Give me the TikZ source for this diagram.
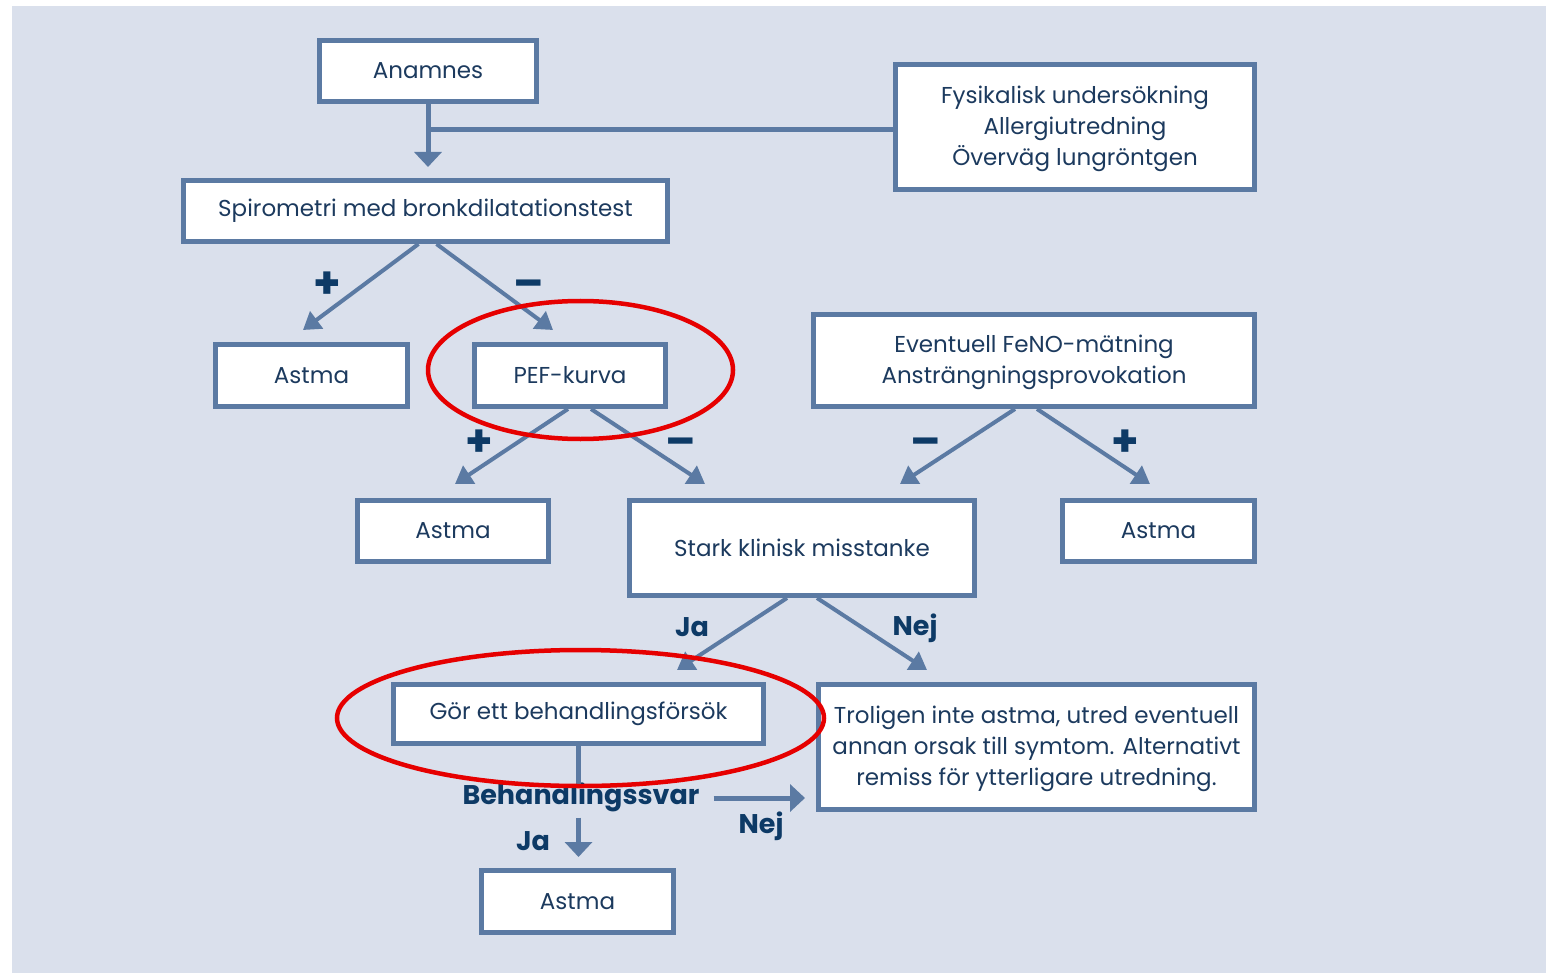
\documentclass[tikz,border=0pt]{standalone}
\usepackage{fontspec}
\setmainfont{Poppins}
\usetikzlibrary{arrows.meta}
\definecolor{bg}{HTML}{DAE0EC}
\definecolor{frame}{HTML}{5B7AA3}
\definecolor{ink}{HTML}{1C3A5E}
\definecolor{lab}{HTML}{0D3A66}
\definecolor{mark}{HTML}{E60000}
\begin{document}
\begin{tikzpicture}[x=1pt,y=-1pt,
  box/.style={draw=frame, line width=5pt, fill=white, text=ink,
    font=\fontsize{23pt}{31pt}\selectfont, align=center, inner sep=0pt},
  conn/.style={draw=frame, line width=4pt, -{Triangle[width=21pt,length=17pt]}},
  vconn/.style={draw=frame, line width=5pt, -{Triangle[width=27pt,length=15pt]}},
  stem/.style={draw=frame, line width=5pt},
  lbl/.style={text=lab, font=\fontsize{27pt}{30pt}\selectfont\bfseries, inner sep=0pt},
  sign/.style={text=lab, font=\fontsize{44pt}{44pt}\selectfont\bfseries, inner sep=0pt},
  ring/.style={draw=mark, line width=4.5pt}]
\useasboundingbox (0,0) rectangle (1546,973);
\fill[white] (0,0) rectangle (1546,973);
\fill[bg] (12,6) rectangle (1546,973);

% boxes
\node[box, minimum width=217pt, minimum height=61pt] (anam) at (428,71) {Anamnes};
\node[box, minimum width=359pt, minimum height=125pt] (fys) at (1075,127)
  {\strut Fysikalisk undersökning\\Allergiutredning\\Överväg lungröntgen};
\node[box, minimum width=484pt, minimum height=61pt] (spiro) at (425.5,211)
  {Spirometri med bronkdilatationstest};
\node[box, minimum width=192pt, minimum height=62pt] (astA) at (311.5,375.5) {Astma};
\node[box, minimum width=191pt, minimum height=62pt] (pef) at (570,375.5) {PEF-kurva};
\node[box, minimum width=441pt, minimum height=92pt] (feno) at (1034,360.5)
  {\strut Eventuell FeNO-mätning\\Ansträngningsprovokation};
\node[box, minimum width=191pt, minimum height=61pt] (astB) at (453,531) {Astma};
\node[box, minimum width=345pt, minimum height=95pt] (stark) at (802,548) {Stark klinisk misstanke};
\node[box, minimum width=192pt, minimum height=61pt] (astC) at (1158.5,531) {Astma};
\node[box, minimum width=370pt, minimum height=59pt] (gor) at (578.5,714) {Gör ett behandlingsförsök};
\node[box, minimum width=436pt, minimum height=125pt] (trol) at (1036.5,747)
  {\strut Troligen inte astma, utred eventuell\\annan orsak till symtom. Alternativt\\remiss för ytterligare utredning.};
\node[box, minimum width=192pt, minimum height=62pt] (astD) at (577.5,901.5) {Astma};

% anamnes to spirometri, with side branch
\draw[vconn] (anam.south) -- ([yshift=11pt]spiro.north -| anam.south);
\draw[stem] ([yshift=-3pt]fys.west) -- ([yshift=-3pt]fys.west -| anam.south);

% spirometri branches
\draw[conn] ([xshift=-7pt]spiro.south) -- ([xshift=-8.5pt,yshift=12pt]astA.north);
\draw[conn] ([xshift=11pt]spiro.south) -- ([xshift=-17pt,yshift=12pt]pef.north);
\node[sign] (s1) at (327,285) {+};
\node[sign] (s2) at (529,289) {–};

% pef branches
\draw[conn] ([xshift=-2pt]pef.south) -- ([xshift=2pt,yshift=14pt]astB.north);
\draw[conn] ([xshift=21pt]pef.south) -- ([xshift=-97pt,yshift=14pt]stark.north);
\node[sign] (s3) at (479,443) {+};
\node[sign] (s4) at (681,447) {–};

% feno branches
\draw[conn] ([xshift=-19pt]feno.south) -- ([xshift=98pt,yshift=14pt]stark.north);
\draw[conn] ([xshift=3pt]feno.south) -- ([xshift=-8.5pt,yshift=14pt]astC.north);
\node[sign] (s5) at (926,447) {–};
\node[sign] (s6) at (1125,443) {+};

% stark klinisk misstanke branches
\draw[conn] ([xshift=-15pt]stark.south) -- ([xshift=98.5pt,yshift=12pt]gor.north);
\draw[conn] ([xshift=15pt]stark.south) -- ([xshift=-109.5pt,yshift=12pt]trol.north);
\node[lbl] (ja1) at (692,627) {Ja};
\node[lbl] (nej1) at (915,628) {Nej};

% treatment response
\node[lbl] (svar) at (581,797) {Behandlingssvar};
\draw[stem] (gor.south) -- ([yshift=-4pt]svar.north -| gor.south);
\draw[vconn] ([yshift=-6pt]svar.south -| gor.south) -- ([yshift=11pt]astD.north -| gor.south);
\draw[vconn] ([xshift=14pt,yshift=-1pt]svar.east) -- ([xshift=-11pt,yshift=-1pt]svar.east -| trol.west);
\node[lbl] (ja2) at (533,841) {Ja};
\node[lbl] (nej2) at (761,826) {Nej};

% highlight rings
\draw[ring] (580.5,370) ellipse [x radius=152.5pt, y radius=69pt];
\draw[ring] (580.5,718) ellipse [x radius=243.5pt, y radius=68pt];
\end{tikzpicture}
\end{document}
